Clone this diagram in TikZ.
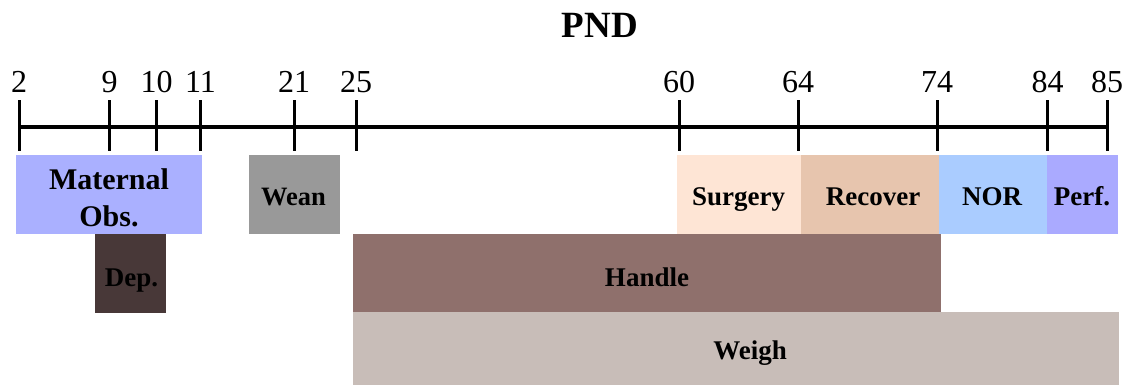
\documentclass[tikz,border=0pt]{standalone}
\usepackage{fontspec}
\setmainfont{Liberation Serif}
\definecolor{cMat}{HTML}{AAB0FF}
\definecolor{cWean}{HTML}{999999}
\definecolor{cDep}{HTML}{483838}
\definecolor{cHandle}{HTML}{8F706C}
\definecolor{cWeigh}{HTML}{C8BDB8}
\definecolor{cSurg}{HTML}{FEE5D5}
\definecolor{cRec}{HTML}{E7C5AE}
\definecolor{cNOR}{HTML}{AACCFF}
\definecolor{cPerf}{HTML}{AAAAFF}
\tikzset{
  numlab/.style={anchor=base, inner sep=0pt, font=\fontsize{32}{32}\selectfont},
  boxlab/.style={anchor=base, inner sep=0pt, font=\fontsize{27}{27}\selectfont\bfseries},
  tickline/.style={line width=3pt},
  axisline/.style={line width=4pt}
}
\begin{document}
\begin{tikzpicture}[x=1pt,y=-1pt]
\useasboundingbox (0,0) rectangle (1127,385);
% title
\node[anchor=base, inner sep=0pt, font=\fontsize{37}{37}\selectfont\bfseries] (title) at (600,38) {PND};
% boxes
\fill[cMat] (16,155) rectangle (202,233.7);
\fill[cWean] (249,155) rectangle (340,233.7);
\fill[cSurg] (677,155.5) rectangle (801,234.3);
\fill[cRec] (801,155) rectangle (939,233.7);
\fill[cNOR] (939,155) rectangle (1047,233.7);
\fill[cPerf] (1047,155) rectangle (1118,233.7);
\fill[cDep] (95,233.7) rectangle (166,312.5);
\fill[cHandle] (353.3,233.7) rectangle (941,312);
\fill[cWeigh] (353.3,312) rectangle (1119,385);
% axis
\coordinate (a0) at (19,127.5);
\coordinate (a1) at (1109,127.5);
\draw[axisline] (a0) -- (a1);
\foreach \x/\lab in {19/2,109.5/9,156.5/10,200.5/11,294/21,356/25,679/60,798/64,937/74,1047.5/84,1107/85}{
  \draw[tickline] (\x,100.5) -- (\x,151);
  \node[numlab] (n\lab) at (\x,92.3) {\lab};
}
% labels
\node[anchor=base, inner sep=0pt, font=\fontsize{30}{30}\selectfont\bfseries] (mat) at (109,189) {Maternal};
\node[anchor=base, inner sep=0pt, font=\fontsize{30}{30}\selectfont\bfseries] (obs) at (109,226.5) {Obs.};
\node[boxlab, font=\fontsize{26.5}{26.5}\selectfont\bfseries] (wean) at (293.5,205) {Wean};
\node[boxlab] (surg) at (738.5,205) {Surgery};
\node[boxlab] (rec) at (873,205) {Recover};
\node[boxlab] (nor) at (992,205) {NOR};
\node[boxlab] (perf) at (1082,205) {Perf.};
\node[boxlab] (dep) at (131.5,286.5) {Dep.};
\node[boxlab] (handle) at (647,286) {Handle};
\node[boxlab] (weigh) at (750,359) {Weigh};
\end{tikzpicture}
\end{document}
